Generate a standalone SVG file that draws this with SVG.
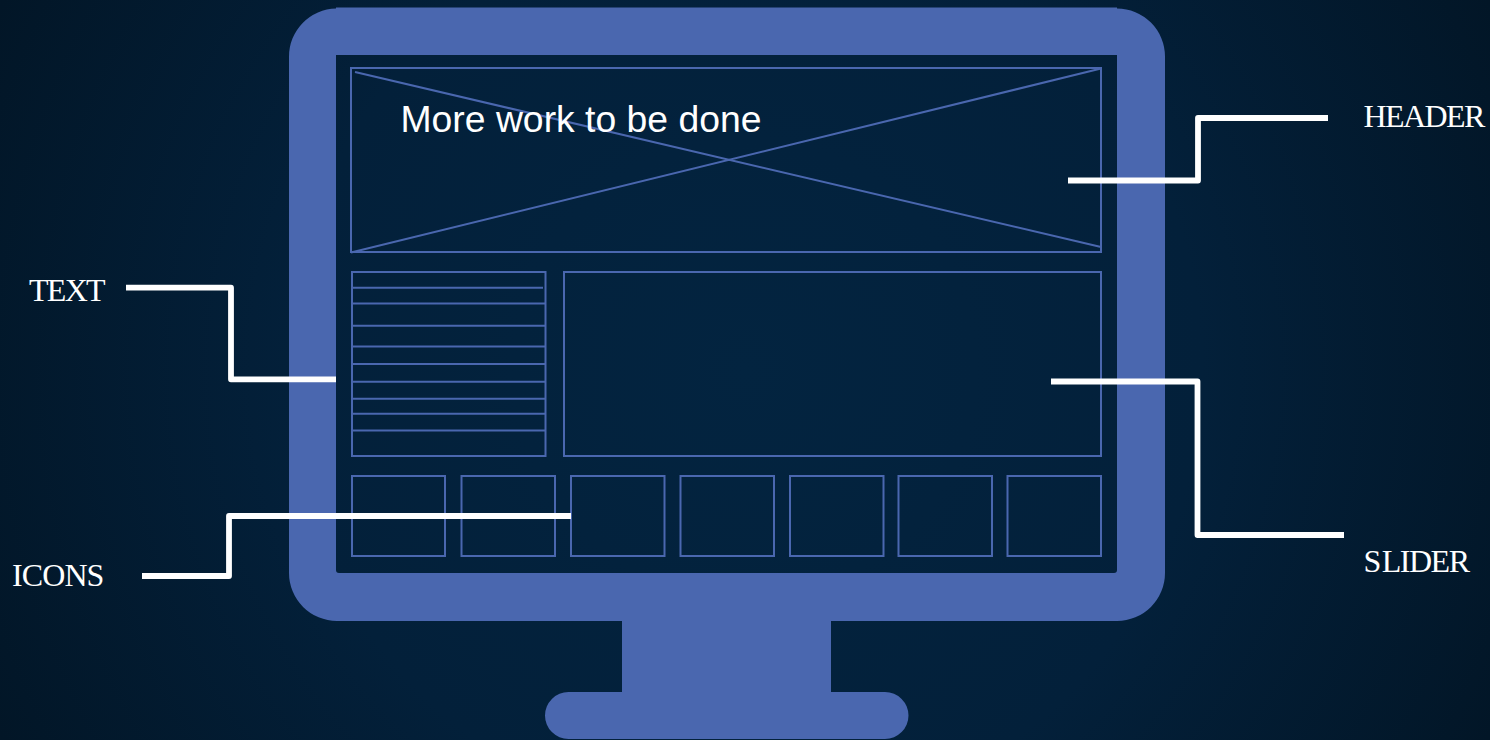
<svg xmlns="http://www.w3.org/2000/svg" width="1490" height="740" viewBox="0 0 1490 740">
<defs>
<radialGradient id="bg" gradientUnits="userSpaceOnUse" cx="745" cy="370" r="830">
<stop offset="0" stop-color="#032440"/>
<stop offset="0.55" stop-color="#03203a"/>
<stop offset="1" stop-color="#021627"/>
</radialGradient>
</defs>
<style>
.m{fill:#4a67af}
.w{fill:none;stroke:#4a67af;stroke-width:2}
.t{fill:none;stroke:#4a67af;stroke-width:2}
.c{fill:none;stroke:#fff;stroke-width:5.8;stroke-linejoin:round}
.l{font-family:"Liberation Serif",serif;font-size:32px;fill:#fff;letter-spacing:-1.5px}
.h{font-family:"Liberation Sans",sans-serif;font-size:37.330px;fill:#fff}
</style>
<rect width="1490" height="740" fill="url(#bg)"/>
<g id="monitor">
<path class="m" fill-rule="evenodd" d="M336 7.500H1117V8.500A48 48 0 0 1 1165 56.500V573A48 48 0 0 1 1117 621H831V692H885A23.500 23.500 0 0 1 885 739H568.500A23.500 23.500 0 0 1 568.500 692H622V621H337A48 48 0 0 1 289 573V56.500A48 48 0 0 1 336 8.500ZM336 55V570Q336 573 339 573H1114Q1117 573 1117 570V55Z"/>
</g>
<g id="header">
<rect class="w" x="351" y="68" width="750" height="184"/>
<path class="t" d="M355 72L1101 247M351 252.500L1101 68.500"/>
<text class="h" x="400.500" y="132">More work to be done</text>
</g>
<g id="text-block">
<rect class="w" x="352" y="272" width="193.500" height="184"/>
<path class="t" d="M352 287.800H543M352 303.500H545M352 325.800H545M352 346.500H545M352 364H545M352 381.700H545M352 398.800H545M352 413.800H545M352 430.500H545"/>
</g>
<g id="slider"><rect class="w" x="564" y="272" width="537" height="184"/></g>
<g id="icons">
<rect class="w" x="352" y="476" width="93" height="80"/>
<rect class="w" x="461.500" y="476" width="93.500" height="80"/>
<rect class="w" x="571" y="476" width="93.500" height="80"/>
<rect class="w" x="680.500" y="476" width="93.500" height="80"/>
<rect class="w" x="790" y="476" width="93.500" height="80"/>
<rect class="w" x="898.500" y="476" width="93.500" height="80"/>
<rect class="w" x="1007.500" y="476" width="93.500" height="80"/>
</g>
<g id="connectors">
<path class="c" d="M1068 180.500H1198V118H1328"/>
<path class="c" d="M1051 381.500H1197.500V535H1344"/>
<path class="c" d="M126 287.700H231V379.300H336"/>
<path class="c" d="M142 576H229V516H571"/>
</g>
<g id="labels">
<text class="l" x="1363.500" y="127" style="letter-spacing:-1.6px">HEADER</text>
<text class="l" x="1363.500" y="572">S<tspan dx="2">LIDER</tspan></text>
<text class="l" x="29" y="301" style="letter-spacing:-1.7px">TEXT</text>
<text class="l" x="12" y="586" style="letter-spacing:-0.9px">ICONS</text>
</g>
</svg>
